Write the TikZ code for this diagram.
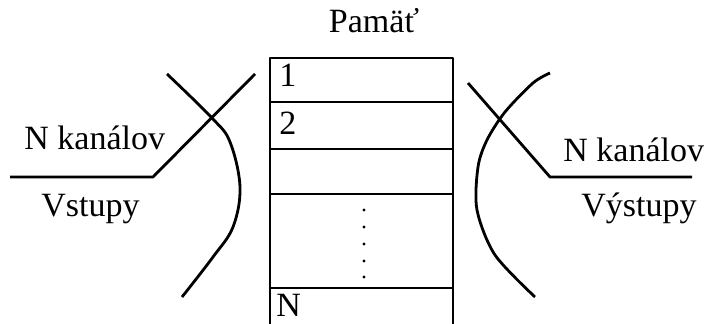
\documentclass[tikz,border=0pt]{standalone}
\usepackage{fontspec}
\setmainfont{Liberation Serif}
\usetikzlibrary{positioning}

\begin{document}
\begin{tikzpicture}[x=0.5pt,y=-0.5pt,line width=1.4pt,line join=round]\fontsize{17}{20}\selectfont
	\tikzset{lbl/.style={anchor=base west,inner sep=0pt}}
	\clip (0,0) rectangle (707,324);
	% memory block
	\node[anchor=base,inner sep=0pt] (pamat) at (374,33) {Pamäť};
	\draw (270,340) -- (270,58) -- (453,58) -- (453,340);
	\foreach \y in {102,149,194,288} \draw (270,\y) -- (453,\y);
	\node[lbl] (r1) at (278,87) {1};
	\node[lbl] (r2) at (278,135) {2};
	\node[lbl] (rN) at (275,317) {N};
	\foreach \y in {210,227,244,261,277} \fill (364,\y) circle (1.6);
	% inputs
	\draw (10,177) coordinate (inA) -- (153,177) coordinate (inB) -- (255,74);
	\draw plot[smooth,tension=.6] coordinates {(167,74) (212,118) (230,142) (240,187) (233,227) (213,257) (182,297)};
	\node[lbl] (inN) at (23,150) {N kanálov};
	\node[lbl] (inV) at (40,217) {Vstupy};
	% outputs
	\draw (692,177) coordinate (outA) -- (550,177) coordinate (outB) -- (468,83);
	\draw plot[smooth,tension=.5] coordinates {(550,73) (533,83) (505,112) (487,140) (478,167) (477,210) (495,255) (535,297)};
	\node[lbl] (outN) at (562,162) {N kanálov};
	\node[lbl] (outV) at (580,217) {Výstupy};
\end{tikzpicture}
\end{document}
